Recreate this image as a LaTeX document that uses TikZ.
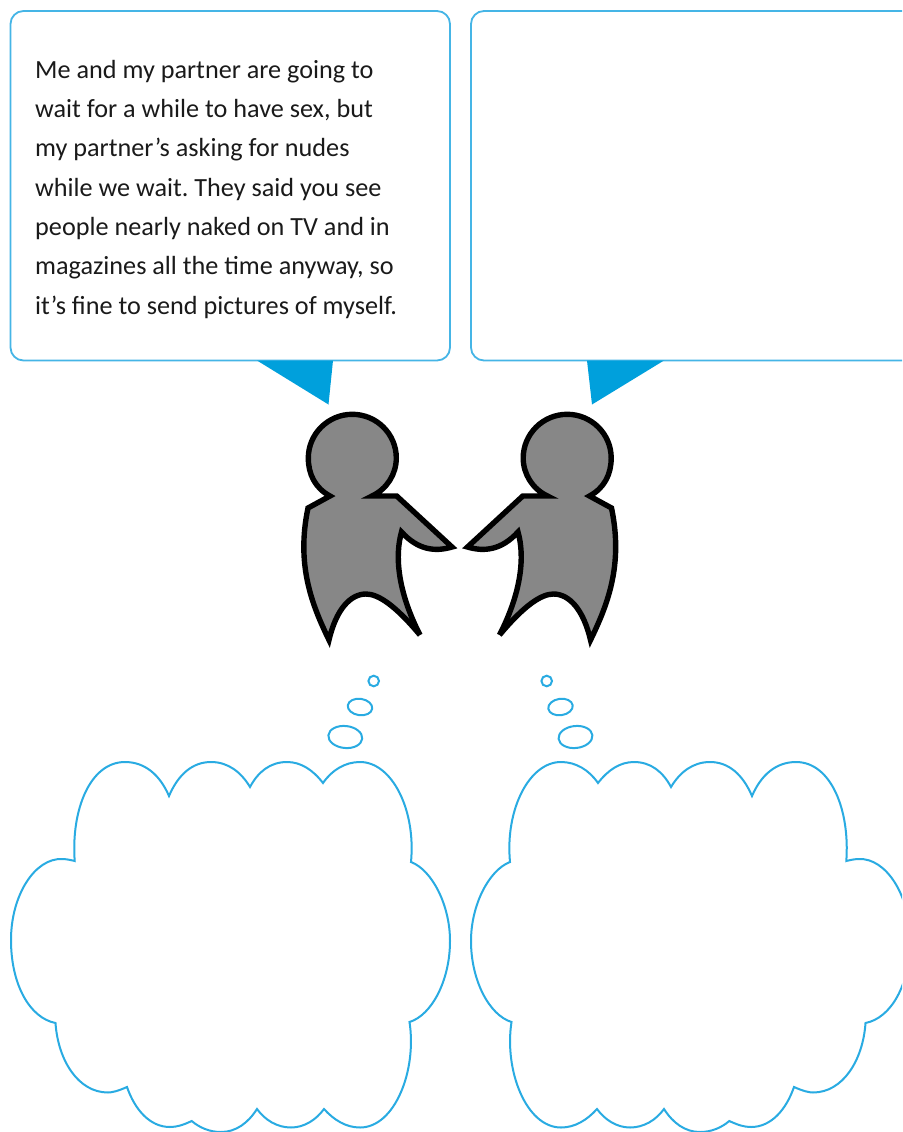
\documentclass[tikz,border=0pt]{standalone}
\usepackage{fontspec}
\setmainfont{Carlito}
\frenchspacing
\definecolor{bubbleblue}{HTML}{29ABE2}
\definecolor{boxblue}{HTML}{45B5E6}
\definecolor{tailblue}{HTML}{00A0DC}
\definecolor{figgray}{HTML}{878787}
\definecolor{inktext}{HTML}{1A1A1A}
\tikzset{
  cloudline/.style={draw=bubbleblue,line width=2pt,fill=white,line join=miter},
  boxline/.style={draw=boxblue,line width=1.8pt,fill=white,rounded corners=13pt},
  tail/.style={fill=tailblue,draw=none},
  personshape/.style={draw=black,fill=figgray,line width=5.4pt,line join=miter,miter limit=10,line cap=butt},
  msgtext/.style={anchor=north west,inner sep=0pt,align=left,text=inktext,font=\fontsize{26.2}{39.3}\selectfont}
}
\newcommand{\cloudoutline}{
  (74.7,861) .. controls (71,810) and (90,762) .. (125,762)
  .. controls (145,762) and (160,775) .. (169,796)
  .. controls (178,775) and (192,762) .. (211,762)
  .. controls (228,762) and (241,772) .. (250,787)
  .. controls (258,772) and (270,762) .. (287,762)
  .. controls (301,762) and (313,770) .. (323,783)
  .. controls (332,770) and (345,762) .. (360,762)
  .. controls (392,762) and (416,810) .. (411,862)
  .. controls (432,870) and (450,905) .. (450,941)
  .. controls (450,980) and (432,1015) .. (409.5,1022)
  .. controls (417,1070) and (395,1127.5) .. (360,1127.5)
  .. controls (346,1127.5) and (334,1120) .. (324,1109)
  .. controls (316,1120) and (304,1127.5) .. (291,1127.5)
  .. controls (277,1127.5) and (265,1120) .. (257,1109)
  .. controls (248,1123) and (236,1132) .. (221,1132)
  .. controls (210,1132) and (200,1128) .. (191.7,1121)
  .. controls (183,1125) and (177,1127) .. (170,1127)
  .. controls (150,1127) and (135,1110) .. (127,1087)
  .. controls (118,1091) and (112,1092.5) .. (108,1092.5)
  .. controls (78,1092.5) and (58,1060) .. (55.5,1023)
  .. controls (30,1018) and (11,985) .. (11,940)
  .. controls (11,895) and (35,858) .. (62,859)
  .. controls (66,859) and (71,860) .. (74.7,861) -- cycle
}
\newcommand{\personoutline}{
  (420,635) .. controls (395,605) and (378,594) .. (366,594)
  .. controls (350,594) and (336,610) .. (329,640)
  .. controls (312,605) and (296,565) .. (308,508)
  -- (330,496)
  .. controls (315,488) and (308.3,474) .. (308.3,458)
  .. controls (308.3,434) and (328,414.3) .. (352.3,414.3)
  .. controls (376.6,414.3) and (396.3,434) .. (396.3,458)
  .. controls (396.3,474) and (387,489) .. (372,496)
  -- (396.7,496) -- (452,547)
  .. controls (435,552) and (418,550) .. (401.5,532)
  .. controls (395,555) and (397,590) .. (420,635)
}
\begin{document}
\begin{tikzpicture}[x=1pt,y=-1pt]
\useasboundingbox (0,0) rectangle (902,1132);
\clip (0,0) rectangle (902,1132);
\fill[white] (0,0) rectangle (902,1132);
% speech boxes
\path[boxline] (10.5,11) rectangle (450,360.5);
\path[boxline] (471,11) rectangle (915,360.5);
% speech tails
\path[tail] (257,360.5) -- (333,360.5) -- (328.5,404.5) -- cycle;
\path[tail] (587,360.5) -- (664,360.5) -- (592,404.5) -- cycle;
% message
\node[msgtext] (msg) at (35,60) {Me and my partner are going to\\wait for a while to have sex, but\\my partner’s asking for nudes\\while we wait. They said you see\\people nearly naked on TV and in\\magazines all the time anyway, so\\it’s fine to send pictures of myself.};
% figures
\path[personshape] \personoutline;
\begin{scope}[xshift=919.5pt,xscale=-1]
\path[personshape] \personoutline;
\end{scope}
% thought bubbles, left
\path[cloudline] (373.7,681) circle[radius=5.3pt];
\path[cloudline] (360,707) ellipse[x radius=12.3pt,y radius=8.2pt,rotate=-8];
\path[cloudline] (345.3,737) ellipse[x radius=17pt,y radius=11pt,rotate=-6];
\path[cloudline] \cloudoutline;
% thought bubbles, right
\begin{scope}[xshift=921pt,xscale=-1]
\path[cloudline] (374.3,681) circle[radius=5.3pt];
\path[cloudline] (360.5,707) ellipse[x radius=12.3pt,y radius=8.2pt,rotate=-8];
\path[cloudline] (345.5,737) ellipse[x radius=17pt,y radius=11pt,rotate=-6];
\path[cloudline] \cloudoutline;
\end{scope}
\end{tikzpicture}
\end{document}
